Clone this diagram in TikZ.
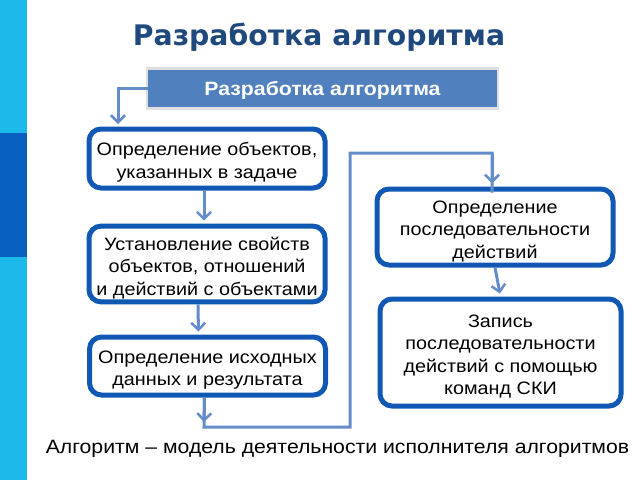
\documentclass[tikz,border=0pt]{standalone}
\usepackage{fontspec}
\setmainfont{Liberation Sans}[FakeStretch=1.1]
\newfontfamily\titlefont{DejaVu Sans}
\usetikzlibrary{arrows.meta,calc}
\definecolor{stripL}{RGB}{30,185,235}
\definecolor{stripD}{RGB}{8,96,190}
\definecolor{titleC}{RGB}{31,73,125}
\definecolor{hdrC}{RGB}{80,128,190}
\definecolor{boxC}{RGB}{16,88,180}
\definecolor{connC}{RGB}{100,140,200}
\newcommand\boxtext[1]{\begin{tabular}{@{}c@{}}\rule{0pt}{24pt}#1\end{tabular}}
\tikzset{
  boxnode/.style={draw=boxC,line width=5pt,rounded corners=12pt,fill=white,
    inner sep=0pt,font=\fontsize{18}{22.5}\selectfont},
  conn/.style={draw=connC,line width=3pt},
  arr/.style={conn,-{Straight Barb[length=7pt,width=14pt,line width=2.5pt]},shorten >=3pt}
}
\begin{document}
\begin{tikzpicture}[x=1pt,y=-1pt]
\useasboundingbox (0,0) rectangle (640,480);
\fill[white] (0,0) rectangle (640,480);
% left strip
\fill[stripL] (0,0) rectangle (27,480);
\fill[stripD] (0,133) rectangle (27,257);
% title
\node[font=\titlefont\bfseries\fontsize{28.3}{30}\selectfont,text=titleC] (title) at (319,37) {Разработка алгоритма};
% header
\fill[gray!25] (146,67) rectangle (499,110);
\node[fill=hdrC,minimum width=349pt,minimum height=37pt,inner sep=0pt,text=white,
  text height=18pt,text depth=4pt,
  font=\bfseries\fontsize{19.3}{22}\selectfont] (hdr) at (322.5,88.5) {Разработка алгоритма};
% boxes
\node[boxnode,minimum width=236pt,minimum height=59pt] (b1) at (207,158.5) {\boxtext{Определение объектов,\\указанных в задаче}};
\node[boxnode,minimum width=236pt,minimum height=74pt] (b2) at (207,264) {\boxtext{Установление свойств\\объектов, отношений\\и действий с объектами}};
\node[boxnode,minimum width=236pt,minimum height=58pt] (b3) at (207.5,366) {\boxtext{Определение исходных\\данных и результата}};
\node[boxnode,minimum width=236pt,minimum height=76pt] (bA) at (495,227) {\boxtext{Определение\\последовательности\\действий}};
\node[boxnode,minimum width=241pt,minimum height=107pt] (bB) at (500.5,352.5) {\boxtext{Запись\\последовательности\\действий с помощью\\команд СКИ}};
% bottom text
\node[font=\fontsize{19.3}{22}\selectfont] (foot) at (337.5,449) {Алгоритм – модель деятельности исполнителя алгоритмов};
% connectors
\coordinate (h1) at (118,88.5);
\coordinate (h2) at (118,127);
\draw[arr] (hdr.west) -- (h1) -- (h2);
\draw[arr] ([xshift=-3pt]b1.south) -- ([xshift=-3pt]b2.north);
\draw[arr] ([xshift=-9pt]b2.south) -- ([xshift=-9pt]b3.north);
\coordinate (d1) at (204,427);
\coordinate (d0) at (204,425);
\coordinate (d2) at (350,427);
\coordinate (d3) at (350,153);
\coordinate (d4) at (492,153);
\draw[arr] ([xshift=-3pt]b3.south) -- (d0);
\draw[conn] ([xshift=-3pt]b3.south) -- (d1) -- (d2) -- (d3) -- (d4) -- ([xshift=-3pt,yshift=-6pt]bA.north);
\draw[arr] (d4) -- ([xshift=-3pt]bA.north);
\draw[arr] (bA.south) -- (bB.north);
\end{tikzpicture}
\end{document}
